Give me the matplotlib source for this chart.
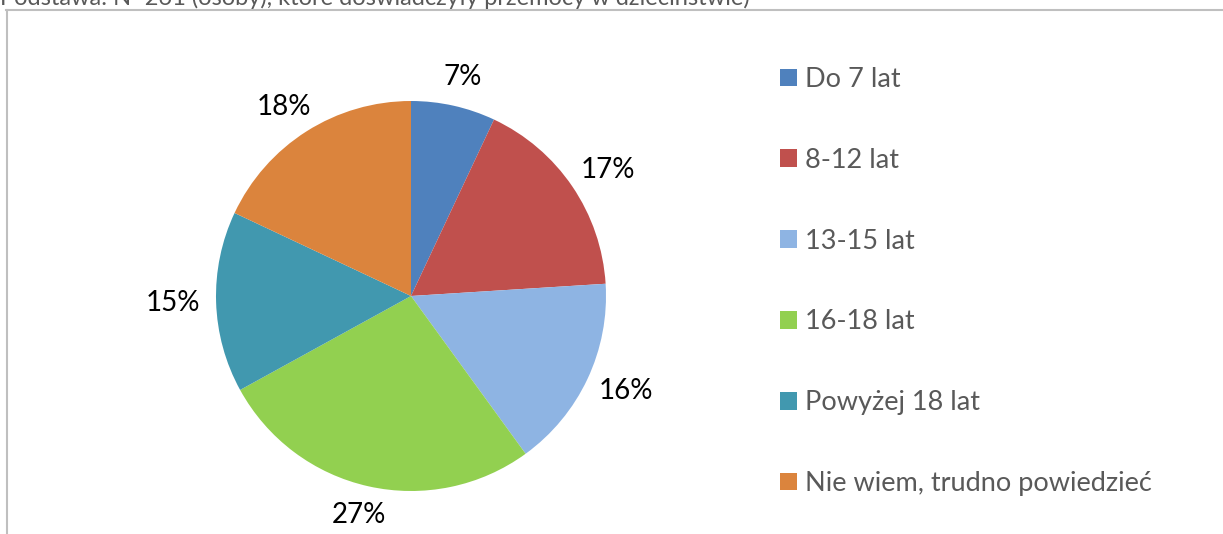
import matplotlib.pyplot as plt
import numpy as np

categories = ["Do 7 lat", "8-12 lat", "13-15 lat", "16-18 lat",
              "Powyżej 18 lat", "Nie wiem, trudno powiedzieć"]
values = [7, 17, 16, 27, 15, 18]
colors = ["#4F81BD", "#C0504D", "#8EB4E3", "#92D050", "#4198AF", "#DB843D"]
note = "Podstawa: N=261 (osoby), które doświadczyły przemocy w dzieciństwie)"

plt.rcParams["font.family"] = ["Lato", "DejaVu Sans"]

W, H = 1223, 534
fig = plt.figure(figsize=(W / 100, H / 100), dpi=100)

# frame of the chart area (only top and left edges are visible)
fig.add_artist(plt.Line2D([6 / W, 1], [1 - 10 / H, 1 - 10 / H], color="#bfbfbf", lw=1.5))
fig.add_artist(plt.Line2D([7 / W, 7 / W], [0, 1 - 10 / H], color="#bfbfbf", lw=1.5))

fig.text(0 / W, 1 - 5 / H, note, fontsize=17, color="#595959", va="baseline", ha="left")

# pie axes: centre (411, 296) px from top-left, radius 195 px
cx, cy, r = 411, H - 296, 195
half = 300
ax = fig.add_axes([(cx - half) / W, (cy - half) / H, 2 * half / W, 2 * half / H])
wedges, _ = ax.pie(values, colors=colors, startangle=90, counterclock=False,
                   wedgeprops=dict(linewidth=0))

# percentage labels outside the slices, like Excel's "outside end"
for w, v in zip(wedges, values):
    th = np.deg2rad((w.theta1 + w.theta2) / 2)
    ax.text(1.22 * np.cos(th), 1.15 * np.sin(th), f"{v}%", fontsize=20,
            ha="center", va="center", color="black")

ax.set_xlim(-half / r, half / r)
ax.set_ylim(-half / r, half / r)
ax.set_aspect("equal")
ax.axis("off")

leg = fig.legend(wedges, categories, loc="upper left", bbox_to_anchor=(780 / W, 1 - 67 / H),
                 frameon=False, fontsize=19.5, labelcolor="#595959",
                 handlelength=0.63, handleheight=0.63, handletextpad=0.3,
                 labelspacing=2.06, borderpad=0, borderaxespad=0)

fig.savefig("out.png", dpi=100)
